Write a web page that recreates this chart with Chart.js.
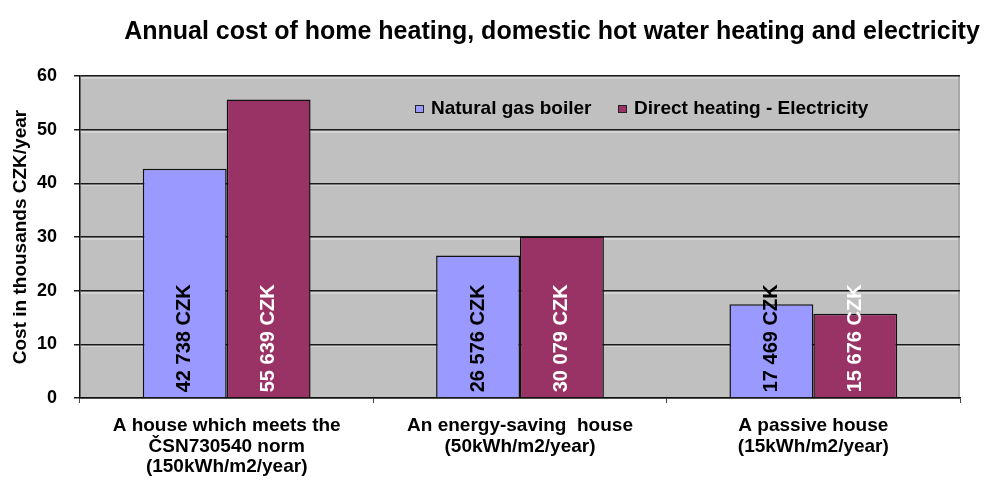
<!DOCTYPE html>
<html>
<head>
<meta charset="utf-8">
<script src="https://cdn.jsdelivr.net/npm/chart.js@4/dist/chart.umd.min.js"></script>
<style>
html,body{margin:0;padding:0;background:#fff;}
#wrap{width:997px;height:480px;position:relative;}
</style>
</head>
<body>
<div id="wrap"><canvas id="c" width="997" height="480"></canvas></div>
<script>
const titleText = 'Annual cost of home heating, domestic hot water heating and electricity';
const yAxisTitle = 'Cost in thousands CZK/year';
const categories = [
  ['A house which meets the', 'ČSN730540 norm', '(150kWh/m2/year)'],
  ['An energy-saving  house', '(50kWh/m2/year)'],
  ['A passive house', '(15kWh/m2/year)']
];
const seriesNames = ['Natural gas boiler', 'Direct heating - Electricity'];
const gasCZK = [42738, 26576, 17469];
const elecCZK = [55639, 30079, 15676];
const yTicks = [0, 10, 20, 30, 40, 50, 60];

const FONT = '"Liberation Sans", Arial, sans-serif';
const fmt = v => String(v).replace(/\B(?=(\d{3})+(?!\d))/g, ' ') + ' CZK';

const bgPlugin = {
  id: 'bg',
  beforeDraw(chart) {
    const {ctx, chartArea: a} = chart;
    ctx.save();
    ctx.fillStyle = '#C0C0C0';
    ctx.fillRect(a.left, a.top, a.right - a.left, a.bottom - a.top);
    ctx.fillStyle = '#A8A8A8';
    ctx.fillRect(a.right - 2, a.top, 2, a.bottom - a.top);
    const y = chart.scales.y;
    ctx.strokeStyle = '#E6E6E6';
    ctx.lineWidth = 1;
    yTicks.forEach(t => {
      if (t === 0) return;
      const py = Math.round(y.getPixelForValue(t)) + 2;
      ctx.beginPath();
      ctx.moveTo(a.left, py);
      ctx.lineTo(a.right - 2, py);
      ctx.stroke();
    });
    ctx.restore();
  }
};

const titlePlugin = {
  id: 'titleDraw',
  afterDraw(chart) {
    const ctx = chart.ctx;
    ctx.save();
    ctx.fillStyle = '#000';
    ctx.font = 'bold 25px ' + FONT;
    ctx.textAlign = 'center';
    ctx.textBaseline = 'middle';
    ctx.fillText(titleText, 552, 32);
    ctx.restore();
  }
};

const legendPlugin = {
  id: 'legendDraw',
  afterDatasetsDraw(chart) {
    const ctx = chart.ctx;
    ctx.save();
    ctx.font = 'bold 19px ' + FONT;
    ctx.textBaseline = 'middle';
    const ly = 109;
    const starts = [415, 618];
    chart.data.datasets.forEach((ds, i) => {
      const x = starts[i];
      ctx.fillStyle = ds.backgroundColor;
      ctx.fillRect(x, ly - 4, 9, 8);
      ctx.strokeStyle = '#222';
      ctx.lineWidth = 1;
      ctx.strokeRect(x + 0.5, ly - 3.5, 8, 7);
      ctx.fillStyle = '#000';
      ctx.textAlign = 'left';
      ctx.fillText(ds.label, x + 16, ly);
    });
    ctx.restore();
  }
};

const valueLabelPlugin = {
  id: 'valueLabels',
  afterDatasetsDraw(chart) {
    const ctx = chart.ctx;
    ctx.save();
    ctx.font = 'bold 20px ' + FONT;
    ctx.textBaseline = 'middle';
    ctx.textAlign = 'left';
    const raw = [gasCZK, elecCZK];
    chart.data.datasets.forEach((ds, di) => {
      const meta = chart.getDatasetMeta(di);
      meta.data.forEach((bar, i) => {
        ctx.save();
        ctx.translate(bar.x, bar.base - 5);
        ctx.rotate(-Math.PI / 2);
        ctx.fillStyle = di === 0 ? '#000' : '#fff';
        ctx.fillText(fmt(raw[di][i]), 0, 0);
        ctx.restore();
      });
    });
    ctx.restore();
  }
};

new Chart(document.getElementById('c'), {
  type: 'bar',
  data: {
    labels: categories,
    datasets: [
      {
        label: seriesNames[0],
        data: gasCZK.map(v => v / 1000),
        backgroundColor: '#9999FF',
        borderColor: '#111',
        borderWidth: 1.5,
        barPercentage: 1,
        categoryPercentage: 0.572
      },
      {
        label: seriesNames[1],
        data: elecCZK.map(v => v / 1000),
        backgroundColor: '#993366',
        borderColor: '#111',
        borderWidth: 1.5,
        barPercentage: 1,
        categoryPercentage: 0.572
      }
    ]
  },
  options: {
    responsive: false,
    animation: false,
    layout: { padding: { top: 76, right: 37, left: 0, bottom: 0 } },
    plugins: {
      legend: { display: false },
      title: { display: false },
      tooltip: { enabled: false }
    },
    scales: {
      x: {
        grid: {
          offset: true,
          drawOnChartArea: false,
          drawTicks: true,
          tickLength: 5,
          color: '#444'
        },
        border: { color: '#111', width: 1.5 },
        ticks: {
          color: '#000',
          font: { family: FONT, size: 19, weight: 'bold', lineHeight: 1.1 },
          padding: 12,
          maxRotation: 0,
          autoSkip: false
        },
        afterFit(scale) { scale.height = 82; }
      },
      y: {
        min: 0,
        max: 60,
        afterBuildTicks(scale) { scale.ticks = yTicks.map(v => ({ value: v })); },
        grid: {
          color: '#1a1a1a',
          lineWidth: 1.5,
          drawTicks: true,
          tickLength: 6
        },
        border: { color: '#111', width: 1.5 },
        ticks: {
          color: '#000',
          font: { family: FONT, size: 18, weight: 'bold' },
          padding: 17
        },
        title: {
          display: true,
          text: yAxisTitle,
          color: '#000',
          font: { family: FONT, size: 19, weight: 'bold' },
          padding: { top: 9, bottom: 0 }
        },
        afterFit(scale) { scale.width = 80; }
      }
    }
  },
  plugins: [bgPlugin, titlePlugin, legendPlugin, valueLabelPlugin]
});
</script>
</body>
</html>
